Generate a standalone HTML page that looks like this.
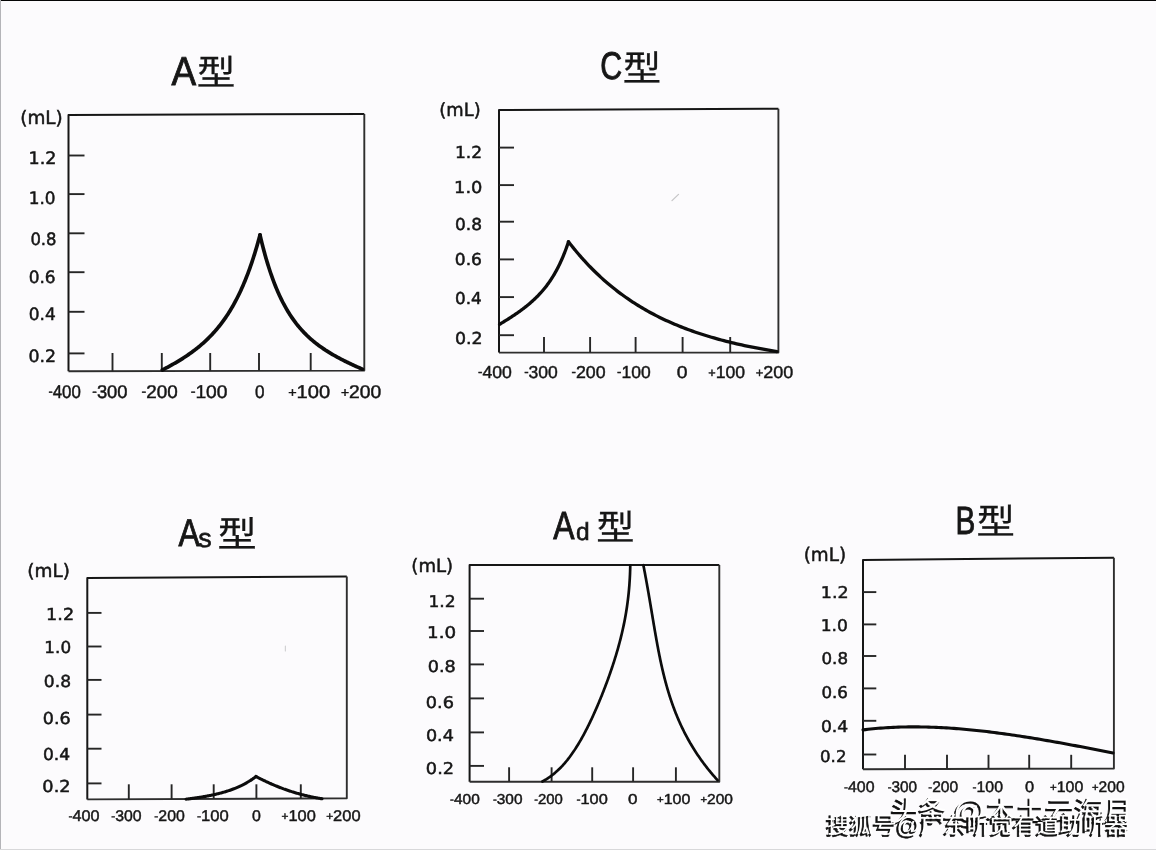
<!DOCTYPE html>
<html><head><meta charset="utf-8"><title>A型 C型 As型 Ad型 B型</title>
<style>html,body{margin:0;padding:0;background:#fcfbfd;width:1156px;height:850px;overflow:hidden}svg{display:block;will-change:transform;text-rendering:geometricPrecision}</style>
</head><body>
<svg width="1156" height="850" viewBox="0 0 1156 850">
<rect width="1156" height="850" fill="#fcfbfd"/>
<path d="M68.50 371.30 L68.50 115.00 L364.30 114.00" stroke="#161616" stroke-width="2" fill="none" stroke-linejoin="round"/>
<path d="M364.30 114.00 L364.30 370.60 L68.50 371.30" stroke="#2e2e2e" stroke-width="1.9" fill="none" stroke-linejoin="round"/>
<path d="M499.00 352.60 L499.00 110.00 L778.40 108.80" stroke="#161616" stroke-width="2" fill="none" stroke-linejoin="round"/>
<path d="M778.40 108.80 L778.40 352.60 L499.00 352.60" stroke="#2e2e2e" stroke-width="1.9" fill="none" stroke-linejoin="round"/>
<path d="M87.30 799.40 L87.30 578.10 L346.80 576.40" stroke="#161616" stroke-width="2" fill="none" stroke-linejoin="round"/>
<path d="M346.80 576.40 L346.80 798.30 L87.30 799.40" stroke="#2e2e2e" stroke-width="1.9" fill="none" stroke-linejoin="round"/>
<path d="M469.60 781.70 L469.60 565.00 L719.30 565.10" stroke="#161616" stroke-width="2" fill="none" stroke-linejoin="round"/>
<path d="M719.30 565.10 L719.30 781.70 L469.60 781.70" stroke="#2e2e2e" stroke-width="1.9" fill="none" stroke-linejoin="round"/>
<path d="M863.00 769.30 L863.00 559.90 L1113.90 557.80" stroke="#161616" stroke-width="2" fill="none" stroke-linejoin="round"/>
<path d="M1113.90 557.80 L1113.90 768.50 L863.00 769.30" stroke="#2e2e2e" stroke-width="1.9" fill="none" stroke-linejoin="round"/>
<line x1="68.50" y1="155.50" x2="84.50" y2="155.50" stroke="#262626" stroke-width="1.9"/>
<line x1="68.50" y1="194.10" x2="84.50" y2="194.10" stroke="#262626" stroke-width="1.9"/>
<line x1="68.50" y1="233.30" x2="84.50" y2="233.30" stroke="#262626" stroke-width="1.9"/>
<line x1="68.50" y1="272.20" x2="84.50" y2="272.20" stroke="#262626" stroke-width="1.9"/>
<line x1="68.50" y1="311.80" x2="84.50" y2="311.80" stroke="#262626" stroke-width="1.9"/>
<line x1="68.50" y1="353.40" x2="84.50" y2="353.40" stroke="#262626" stroke-width="1.9"/>
<line x1="499.00" y1="147.60" x2="514.00" y2="147.60" stroke="#262626" stroke-width="1.9"/>
<line x1="499.00" y1="185.10" x2="514.00" y2="185.10" stroke="#262626" stroke-width="1.9"/>
<line x1="499.00" y1="221.70" x2="514.00" y2="221.70" stroke="#262626" stroke-width="1.9"/>
<line x1="499.00" y1="259.40" x2="514.00" y2="259.40" stroke="#262626" stroke-width="1.9"/>
<line x1="499.00" y1="297.10" x2="514.00" y2="297.10" stroke="#262626" stroke-width="1.9"/>
<line x1="499.00" y1="335.20" x2="514.00" y2="335.20" stroke="#262626" stroke-width="1.9"/>
<line x1="87.30" y1="612.90" x2="101.50" y2="612.90" stroke="#262626" stroke-width="1.9"/>
<line x1="87.30" y1="646.50" x2="101.50" y2="646.50" stroke="#262626" stroke-width="1.9"/>
<line x1="87.30" y1="679.90" x2="101.50" y2="679.90" stroke="#262626" stroke-width="1.9"/>
<line x1="87.30" y1="714.60" x2="101.50" y2="714.60" stroke="#262626" stroke-width="1.9"/>
<line x1="87.30" y1="748.70" x2="101.50" y2="748.70" stroke="#262626" stroke-width="1.9"/>
<line x1="87.30" y1="783.40" x2="101.50" y2="783.40" stroke="#262626" stroke-width="1.9"/>
<line x1="469.60" y1="598.70" x2="484.00" y2="598.70" stroke="#262626" stroke-width="1.9"/>
<line x1="469.60" y1="631.00" x2="484.00" y2="631.00" stroke="#262626" stroke-width="1.9"/>
<line x1="469.60" y1="664.40" x2="484.00" y2="664.40" stroke="#262626" stroke-width="1.9"/>
<line x1="469.60" y1="698.40" x2="484.00" y2="698.40" stroke="#262626" stroke-width="1.9"/>
<line x1="469.60" y1="732.40" x2="484.00" y2="732.40" stroke="#262626" stroke-width="1.9"/>
<line x1="469.60" y1="765.90" x2="484.00" y2="765.90" stroke="#262626" stroke-width="1.9"/>
<line x1="863.00" y1="592.10" x2="876.30" y2="592.10" stroke="#262626" stroke-width="1.9"/>
<line x1="863.00" y1="624.40" x2="876.30" y2="624.40" stroke="#262626" stroke-width="1.9"/>
<line x1="863.00" y1="656.00" x2="876.30" y2="656.00" stroke="#262626" stroke-width="1.9"/>
<line x1="863.00" y1="688.40" x2="876.30" y2="688.40" stroke="#262626" stroke-width="1.9"/>
<line x1="863.00" y1="720.80" x2="876.30" y2="720.80" stroke="#262626" stroke-width="1.9"/>
<line x1="863.00" y1="754.50" x2="876.30" y2="754.50" stroke="#262626" stroke-width="1.9"/>
<line x1="112.50" y1="353.00" x2="112.50" y2="371.20" stroke="#262626" stroke-width="1.9"/>
<line x1="161.80" y1="353.00" x2="161.80" y2="371.08" stroke="#262626" stroke-width="1.9"/>
<line x1="210.20" y1="353.00" x2="210.20" y2="370.96" stroke="#262626" stroke-width="1.9"/>
<line x1="259.00" y1="353.00" x2="259.00" y2="370.85" stroke="#262626" stroke-width="1.9"/>
<line x1="310.70" y1="353.00" x2="310.70" y2="370.73" stroke="#262626" stroke-width="1.9"/>
<line x1="544.00" y1="337.00" x2="544.00" y2="352.60" stroke="#262626" stroke-width="1.9"/>
<line x1="590.10" y1="337.00" x2="590.10" y2="352.60" stroke="#262626" stroke-width="1.9"/>
<line x1="635.60" y1="337.00" x2="635.60" y2="352.60" stroke="#262626" stroke-width="1.9"/>
<line x1="682.60" y1="337.00" x2="682.60" y2="352.60" stroke="#262626" stroke-width="1.9"/>
<line x1="730.20" y1="337.00" x2="730.20" y2="352.60" stroke="#262626" stroke-width="1.9"/>
<line x1="128.80" y1="784.30" x2="128.80" y2="799.22" stroke="#262626" stroke-width="1.9"/>
<line x1="171.60" y1="784.30" x2="171.60" y2="799.04" stroke="#262626" stroke-width="1.9"/>
<line x1="213.70" y1="784.30" x2="213.70" y2="798.86" stroke="#262626" stroke-width="1.9"/>
<line x1="256.40" y1="784.30" x2="256.40" y2="798.68" stroke="#262626" stroke-width="1.9"/>
<line x1="300.80" y1="784.30" x2="300.80" y2="798.49" stroke="#262626" stroke-width="1.9"/>
<line x1="509.10" y1="767.30" x2="509.10" y2="781.70" stroke="#262626" stroke-width="1.9"/>
<line x1="551.60" y1="767.30" x2="551.60" y2="781.70" stroke="#262626" stroke-width="1.9"/>
<line x1="592.20" y1="767.30" x2="592.20" y2="781.70" stroke="#262626" stroke-width="1.9"/>
<line x1="633.10" y1="767.30" x2="633.10" y2="781.70" stroke="#262626" stroke-width="1.9"/>
<line x1="675.90" y1="767.30" x2="675.90" y2="781.70" stroke="#262626" stroke-width="1.9"/>
<line x1="905.00" y1="754.80" x2="905.00" y2="769.17" stroke="#262626" stroke-width="1.9"/>
<line x1="947.00" y1="754.80" x2="947.00" y2="769.03" stroke="#262626" stroke-width="1.9"/>
<line x1="988.50" y1="754.80" x2="988.50" y2="768.90" stroke="#262626" stroke-width="1.9"/>
<line x1="1029.20" y1="754.80" x2="1029.20" y2="768.77" stroke="#262626" stroke-width="1.9"/>
<line x1="1071.20" y1="754.80" x2="1071.20" y2="768.64" stroke="#262626" stroke-width="1.9"/>
<path d="M260.00 235.00L259.95 235.18L259.86 235.53L259.73 236.02L259.57 236.61L259.39 237.30L259.18 238.06L258.95 238.91L258.70 239.82L258.43 240.80L258.14 241.83L257.84 242.92L257.51 244.06L257.17 245.25L256.82 246.48L256.45 247.75L256.06 249.05L255.66 250.39L255.24 251.77L254.81 253.17L254.37 254.60L253.91 256.05L253.44 257.52L252.96 259.01L252.46 260.53L251.95 262.05L251.43 263.59L250.90 265.14L250.35 266.71L249.79 268.28L249.23 269.86L248.64 271.44L248.05 273.03L247.45 274.62L246.84 276.21L246.21 277.80L245.58 279.39L244.93 280.98L244.27 282.56L243.60 284.14L242.93 285.72L242.24 287.28L241.54 288.85L240.83 290.40L240.11 291.94L239.39 293.48L238.65 295.00L237.90 296.51L237.14 298.01L236.38 299.50L235.60 300.98L234.82 302.45L234.02 303.90L233.22 305.33L232.40 306.76L231.58 308.16L230.75 309.56L229.91 310.94L229.06 312.30L228.20 313.65L227.34 314.98L226.46 316.30L225.58 317.60L224.68 318.88L223.78 320.15L222.87 321.40L221.96 322.64L221.03 323.86L220.09 325.07L219.15 326.26L218.20 327.43L217.24 328.59L216.27 329.73L215.30 330.86L214.31 331.97L213.32 333.07L212.32 334.15L211.31 335.22L210.30 336.27L209.27 337.31L208.24 338.34L207.20 339.35L206.16 340.34L205.10 341.33L204.04 342.30L202.97 343.26L201.89 344.20L200.81 345.13L199.72 346.05L198.62 346.96L197.51 347.86L196.40 348.74L195.27 349.62L194.14 350.48L193.01 351.33L191.86 352.17L190.71 353.01L189.55 353.83L188.39 354.64L187.22 355.44L186.04 356.24L184.85 357.03L183.66 357.80L182.45 358.57L181.25 359.34L180.03 360.09L178.81 360.84L177.58 361.58L176.34 362.31L175.10 363.04L173.85 363.76L172.60 364.47L171.33 365.18L170.06 365.88L168.78 366.58L167.50 367.27L166.21 367.96L164.91 368.64L163.61 369.32L162.30 369.99" stroke="#0c0c0c" stroke-width="3.70" fill="none" stroke-linecap="round" stroke-linejoin="round"/>
<path d="M260.00 235.00L260.05 235.21L260.15 235.64L260.28 236.22L260.45 236.92L260.64 237.74L260.86 238.65L261.10 239.65L261.36 240.73L261.65 241.89L261.95 243.11L262.27 244.39L262.61 245.72L262.97 247.11L263.34 248.54L263.73 250.02L264.13 251.53L264.56 253.08L264.99 254.66L265.44 256.27L265.91 257.90L266.39 259.55L266.88 261.23L267.39 262.91L267.91 264.61L268.44 266.33L268.99 268.04L269.55 269.77L270.12 271.50L270.71 273.23L271.30 274.96L271.91 276.69L272.53 278.42L273.17 280.14L273.81 281.85L274.47 283.56L275.13 285.25L275.81 286.94L276.50 288.61L277.20 290.27L277.91 291.91L278.63 293.55L279.37 295.16L280.11 296.76L280.86 298.34L281.63 299.90L282.40 301.45L283.18 302.97L283.98 304.48L284.78 305.96L285.60 307.43L286.42 308.88L287.26 310.30L288.10 311.70L288.95 313.09L289.81 314.45L290.69 315.79L291.57 317.11L292.46 318.40L293.36 319.68L294.27 320.94L295.19 322.17L296.11 323.39L297.05 324.58L298.00 325.75L298.95 326.90L299.91 328.04L300.89 329.15L301.87 330.24L302.86 331.32L303.85 332.38L304.86 333.41L305.88 334.43L306.90 335.44L307.93 336.42L308.97 337.39L310.02 338.34L311.08 339.28L312.14 340.20L313.22 341.10L314.30 341.99L315.39 342.87L316.49 343.73L317.59 344.58L318.71 345.41L319.83 346.23L320.96 347.04L322.10 347.84L323.24 348.63L324.40 349.40L325.56 350.17L326.73 350.92L327.91 351.66L329.09 352.40L330.28 353.12L331.48 353.84L332.69 354.54L333.91 355.24L335.13 355.93L336.36 356.62L337.60 357.30L338.84 357.97L340.10 358.63L341.36 359.29L342.62 359.94L343.90 360.58L345.18 361.23L346.47 361.86L347.77 362.49L349.07 363.12L350.38 363.74L351.70 364.36L353.02 364.98L354.36 365.59L355.70 366.20L357.04 366.81L358.40 367.41L359.76 368.01L361.13 368.61L362.50 369.20" stroke="#0c0c0c" stroke-width="3.70" fill="none" stroke-linecap="round" stroke-linejoin="round"/>
<path d="M568.50 241.80L568.47 241.90L568.40 242.10L568.31 242.37L568.20 242.71L568.07 243.09L567.92 243.53L567.76 244.00L567.58 244.52L567.39 245.07L567.19 245.65L566.97 246.26L566.75 246.90L566.51 247.57L566.26 248.26L565.99 248.98L565.72 249.71L565.44 250.47L565.14 251.24L564.84 252.03L564.53 252.83L564.21 253.65L563.87 254.48L563.53 255.32L563.18 256.17L562.82 257.03L562.46 257.90L562.08 258.77L561.70 259.65L561.30 260.53L560.90 261.42L560.49 262.31L560.07 263.21L559.65 264.11L559.22 265.00L558.78 265.90L558.33 266.80L557.87 267.70L557.41 268.59L556.94 269.49L556.46 270.38L555.97 271.27L555.48 272.16L554.98 273.04L554.48 273.92L553.96 274.79L553.44 275.66L552.92 276.52L552.38 277.38L551.84 278.24L551.29 279.08L550.74 279.93L550.18 280.76L549.61 281.59L549.04 282.41L548.46 283.23L547.87 284.04L547.28 284.84L546.68 285.64L546.08 286.43L545.47 287.21L544.85 287.99L544.22 288.76L543.59 289.52L542.96 290.27L542.32 291.02L541.67 291.76L541.02 292.50L540.36 293.22L539.69 293.94L539.02 294.66L538.35 295.37L537.66 296.07L536.97 296.76L536.28 297.45L535.58 298.14L534.88 298.81L534.17 299.48L533.45 300.15L532.73 300.81L532.00 301.47L531.27 302.11L530.53 302.76L529.79 303.40L529.04 304.03L528.28 304.66L527.52 305.29L526.76 305.91L525.99 306.52L525.21 307.14L524.43 307.74L523.65 308.35L522.85 308.95L522.06 309.55L521.26 310.14L520.45 310.73L519.64 311.32L518.82 311.90L518.00 312.48L517.17 313.06L516.34 313.64L515.50 314.21L514.66 314.79L513.81 315.36L512.96 315.92L512.10 316.49L511.24 317.05L510.38 317.62L509.50 318.18L508.63 318.74L507.75 319.30L506.86 319.85L505.97 320.41L505.07 320.97L504.17 321.52L503.27 322.08L502.36 322.63L501.44 323.18L500.52 323.74L499.60 324.29" stroke="#0c0c0c" stroke-width="3.30" fill="none" stroke-linecap="round" stroke-linejoin="round"/>
<path d="M568.50 241.80L568.60 241.93L568.80 242.19L569.08 242.55L569.42 242.98L569.81 243.49L570.25 244.05L570.74 244.68L571.27 245.35L571.85 246.07L572.46 246.84L573.12 247.65L573.81 248.50L574.53 249.39L575.29 250.31L576.09 251.26L576.91 252.24L577.77 253.25L578.65 254.29L579.57 255.35L580.52 256.44L581.50 257.55L582.50 258.67L583.53 259.82L584.59 260.98L585.68 262.16L586.79 263.35L587.93 264.56L589.09 265.78L590.28 267.00L591.49 268.24L592.73 269.49L594.00 270.74L595.28 272.00L596.59 273.27L597.93 274.54L599.28 275.81L600.66 277.09L602.06 278.37L603.49 279.65L604.94 280.93L606.40 282.20L607.89 283.48L609.41 284.76L610.94 286.03L612.49 287.29L614.07 288.56L615.66 289.82L617.28 291.07L618.91 292.32L620.57 293.56L622.25 294.79L623.94 296.02L625.66 297.24L627.39 298.45L629.15 299.65L630.92 300.84L632.71 302.03L634.53 303.20L636.36 304.36L638.21 305.51L640.07 306.65L641.96 307.78L643.87 308.90L645.79 310.01L647.73 311.10L649.69 312.19L651.67 313.26L653.66 314.32L655.67 315.36L657.70 316.39L659.75 317.41L661.82 318.42L663.90 319.42L666.00 320.40L668.12 321.36L670.25 322.32L672.40 323.26L674.57 324.19L676.75 325.10L678.95 326.00L681.17 326.89L683.40 327.77L685.65 328.63L687.92 329.48L690.20 330.31L692.50 331.13L694.82 331.94L697.15 332.74L699.50 333.52L701.86 334.29L704.24 335.05L706.63 335.79L709.04 336.53L711.47 337.25L713.91 337.95L716.36 338.65L718.84 339.33L721.32 340.00L723.83 340.66L726.35 341.31L728.88 341.95L731.43 342.57L733.99 343.18L736.57 343.79L739.16 344.38L741.77 344.96L744.39 345.53L747.03 346.09L749.68 346.63L752.35 347.17L755.03 347.70L757.73 348.22L760.44 348.73L763.16 349.23L765.90 349.72L768.65 350.20L771.42 350.67L774.20 351.13L777.00 351.59" stroke="#0c0c0c" stroke-width="3.30" fill="none" stroke-linecap="round" stroke-linejoin="round"/>
<path d="M256.00 776.50L255.97 776.53L255.90 776.58L255.81 776.65L255.69 776.74L255.56 776.84L255.41 776.95L255.25 777.07L255.07 777.21L254.88 777.35L254.67 777.51L254.45 777.67L254.22 777.84L253.97 778.01L253.72 778.20L253.45 778.39L253.18 778.58L252.89 778.79L252.59 778.99L252.28 779.20L251.96 779.42L251.64 779.64L251.30 779.87L250.95 780.10L250.60 780.33L250.23 780.56L249.86 780.80L249.48 781.04L249.09 781.29L248.69 781.53L248.28 781.78L247.86 782.03L247.44 782.28L247.01 782.53L246.57 782.78L246.12 783.04L245.67 783.29L245.20 783.55L244.73 783.81L244.25 784.06L243.77 784.32L243.27 784.57L242.77 784.83L242.27 785.09L241.75 785.34L241.23 785.60L240.70 785.85L240.17 786.10L239.62 786.36L239.07 786.61L238.52 786.86L237.96 787.11L237.39 787.35L236.81 787.60L236.23 787.84L235.64 788.09L235.04 788.33L234.44 788.57L233.83 788.81L233.22 789.04L232.60 789.28L231.97 789.51L231.34 789.74L230.70 789.97L230.05 790.19L229.40 790.42L228.74 790.64L228.08 790.86L227.41 791.07L226.73 791.29L226.05 791.50L225.36 791.71L224.67 791.92L223.97 792.12L223.27 792.33L222.56 792.53L221.84 792.73L221.12 792.92L220.39 793.12L219.66 793.31L218.92 793.50L218.17 793.68L217.42 793.87L216.67 794.05L215.91 794.23L215.14 794.40L214.37 794.58L213.59 794.75L212.81 794.92L212.02 795.09L211.23 795.25L210.43 795.42L209.63 795.58L208.82 795.74L208.00 795.89L207.18 796.05L206.36 796.20L205.53 796.35L204.69 796.50L203.85 796.65L203.01 796.79L202.16 796.93L201.30 797.07L200.44 797.21L199.57 797.35L198.70 797.48L197.83 797.62L196.95 797.75L196.06 797.88L195.17 798.00L194.28 798.13L193.38 798.25L192.47 798.37L191.56 798.50L190.65 798.61L189.73 798.73L188.80 798.85L187.87 798.96L186.94 799.08L186.00 799.19" stroke="#0c0c0c" stroke-width="3.10" fill="none" stroke-linecap="round" stroke-linejoin="round"/>
<path d="M256.00 776.50L256.03 776.52L256.10 776.55L256.18 776.60L256.29 776.65L256.41 776.72L256.55 776.79L256.71 776.88L256.88 776.96L257.06 777.06L257.26 777.16L257.46 777.27L257.68 777.38L257.91 777.50L258.15 777.63L258.40 777.76L258.66 777.89L258.93 778.03L259.21 778.18L259.50 778.32L259.80 778.48L260.11 778.63L260.43 778.79L260.76 778.96L261.09 779.13L261.44 779.30L261.79 779.47L262.15 779.65L262.52 779.83L262.89 780.02L263.28 780.21L263.67 780.40L264.07 780.59L264.48 780.78L264.89 780.98L265.31 781.18L265.74 781.39L266.18 781.59L266.62 781.80L267.08 782.01L267.53 782.22L268.00 782.44L268.47 782.65L268.95 782.87L269.43 783.09L269.93 783.31L270.42 783.53L270.93 783.75L271.44 783.98L271.96 784.20L272.48 784.43L273.01 784.66L273.55 784.89L274.09 785.12L274.64 785.35L275.20 785.58L275.76 785.81L276.33 786.04L276.90 786.28L277.48 786.51L278.07 786.74L278.66 786.98L279.25 787.21L279.86 787.45L280.47 787.68L281.08 787.92L281.70 788.15L282.33 788.39L282.96 788.62L283.59 788.86L284.24 789.09L284.89 789.32L285.54 789.56L286.20 789.79L286.86 790.02L287.53 790.25L288.21 790.48L288.89 790.71L289.58 790.94L290.27 791.17L290.96 791.40L291.67 791.62L292.37 791.85L293.08 792.07L293.80 792.29L294.52 792.51L295.25 792.73L295.99 792.95L296.72 793.17L297.47 793.38L298.21 793.59L298.97 793.81L299.72 794.01L300.49 794.22L301.26 794.43L302.03 794.63L302.81 794.83L303.59 795.03L304.38 795.23L305.17 795.43L305.97 795.62L306.77 795.81L307.57 796.00L308.39 796.18L309.20 796.37L310.02 796.55L310.85 796.72L311.68 796.90L312.51 797.07L313.35 797.24L314.20 797.41L315.05 797.57L315.90 797.73L316.76 797.89L317.62 798.04L318.49 798.20L319.36 798.34L320.23 798.49L321.11 798.63L322.00 798.77" stroke="#0c0c0c" stroke-width="3.10" fill="none" stroke-linecap="round" stroke-linejoin="round"/>
<path d="M630.26 565.24L630.23 566.72L630.20 568.22L630.16 569.71L630.11 571.21L630.06 572.71L630.00 574.21L629.93 575.72L629.85 577.22L629.77 578.73L629.69 580.24L629.59 581.75L629.49 583.27L629.38 584.78L629.27 586.29L629.14 587.81L629.01 589.32L628.87 590.83L628.73 592.35L628.58 593.86L628.42 595.37L628.25 596.89L628.07 598.40L627.89 599.91L627.70 601.42L627.50 602.93L627.30 604.43L627.08 605.94L626.86 607.44L626.63 608.95L626.40 610.45L626.16 611.95L625.91 613.44L625.65 614.94L625.39 616.43L625.11 617.93L624.84 619.42L624.55 620.91L624.26 622.39L623.96 623.88L623.65 625.36L623.34 626.84L623.02 628.32L622.69 629.79L622.35 631.27L622.01 632.74L621.67 634.21L621.31 635.68L620.95 637.15L620.59 638.61L620.21 640.07L619.83 641.53L619.45 642.99L619.06 644.45L618.66 645.90L618.26 647.36L617.85 648.81L617.44 650.26L617.02 651.70L616.59 653.15L616.16 654.59L615.72 656.04L615.28 657.48L614.84 658.92L614.38 660.35L613.93 661.79L613.46 663.23L613.00 664.66L612.53 666.09L612.05 667.52L611.57 668.95L611.08 670.38L610.59 671.80L610.09 673.23L609.59 674.65L609.09 676.08L608.58 677.50L608.07 678.92L607.55 680.34L607.03 681.76L606.50 683.18L605.97 684.59L605.43 686.01L604.89 687.42L604.35 688.83L603.80 690.25L603.25 691.66L602.69 693.07L602.13 694.48L601.57 695.88L601.00 697.29L600.43 698.69L599.85 700.10L599.27 701.50L598.68 702.90L598.09 704.30L597.49 705.70L596.89 707.10L596.29 708.49L595.68 709.88L595.07 711.27L594.45 712.66L593.82 714.05L593.19 715.44L592.56 716.82L591.92 718.20L591.27 719.58L590.62 720.95L589.97 722.33L589.31 723.70L588.64 725.06L587.96 726.42L587.28 727.78L586.60 729.14L585.90 730.49L585.20 731.84L584.49 733.18L583.78 734.52L583.05 735.85L582.32 737.18L581.58 738.51L580.84 739.82L580.08 741.13L579.32 742.44L578.54 743.74L577.76 745.03L576.96 746.31L576.16 747.59L575.35 748.86L574.52 750.12L573.68 751.37L572.83 752.61L571.97 753.84L571.10 755.07L570.22 756.28L569.32 757.48L568.40 758.67L567.48 759.85L566.53 761.01L565.58 762.16L564.60 763.30L563.61 764.43L562.61 765.54L561.59 766.63L560.55 767.71L559.49 768.77L558.41 769.82L557.31 770.85L556.19 771.85L555.06 772.85L553.90 773.82L552.71 774.77L551.51 775.70L550.28 776.60L549.03 777.49L547.75 778.35L546.45 779.19L545.12 780.00L543.76 780.79L542.38 781.55" stroke="#0c0c0c" stroke-width="2.70" fill="none" stroke-linecap="round" stroke-linejoin="round"/>
<path d="M643.40 565.22L643.68 566.65L643.95 568.07L644.22 569.50L644.49 570.93L644.76 572.36L645.03 573.79L645.30 575.22L645.56 576.65L645.82 578.08L646.09 579.51L646.35 580.94L646.60 582.37L646.86 583.80L647.12 585.23L647.37 586.66L647.63 588.10L647.88 589.53L648.13 590.96L648.38 592.39L648.63 593.82L648.87 595.26L649.12 596.69L649.37 598.12L649.61 599.55L649.85 600.99L650.10 602.42L650.34 603.85L650.58 605.29L650.82 606.72L651.06 608.16L651.30 609.59L651.54 611.02L651.78 612.46L652.02 613.89L652.26 615.33L652.50 616.76L652.74 618.19L652.98 619.63L653.22 621.06L653.46 622.50L653.70 623.93L653.94 625.37L654.19 626.80L654.43 628.23L654.68 629.67L654.92 631.10L655.17 632.53L655.42 633.97L655.67 635.40L655.92 636.83L656.18 638.26L656.43 639.69L656.69 641.13L656.95 642.56L657.21 643.99L657.48 645.42L657.74 646.85L658.01 648.27L658.29 649.70L658.56 651.13L658.84 652.56L659.12 653.98L659.41 655.41L659.70 656.83L659.99 658.26L660.28 659.68L660.58 661.10L660.89 662.52L661.20 663.94L661.51 665.36L661.83 666.78L662.15 668.20L662.47 669.62L662.80 671.03L663.14 672.44L663.48 673.86L663.83 675.27L664.18 676.68L664.53 678.08L664.90 679.49L665.26 680.90L665.64 682.30L666.02 683.70L666.40 685.10L666.80 686.50L667.19 687.90L667.60 689.29L668.01 690.68L668.43 692.07L668.85 693.46L669.28 694.85L669.72 696.23L670.17 697.62L670.62 699.00L671.08 700.37L671.55 701.75L672.02 703.12L672.51 704.49L673.00 705.86L673.49 707.22L674.00 708.58L674.51 709.94L675.03 711.30L675.56 712.65L676.10 714.00L676.65 715.35L677.20 716.70L677.76 718.04L678.33 719.37L678.91 720.71L679.50 722.04L680.10 723.37L680.70 724.69L681.31 726.01L681.94 727.33L682.57 728.64L683.21 729.95L683.85 731.25L684.51 732.55L685.18 733.85L685.85 735.14L686.53 736.43L687.22 737.71L687.92 738.99L688.63 740.26L689.35 741.53L690.08 742.80L690.81 744.05L691.56 745.31L692.31 746.56L693.07 747.80L693.84 749.04L694.62 750.28L695.41 751.51L696.20 752.73L697.01 753.95L697.82 755.16L698.64 756.36L699.47 757.56L700.30 758.76L701.15 759.94L702.00 761.13L702.86 762.30L703.73 763.47L704.60 764.63L705.48 765.79L706.37 766.94L707.27 768.08L708.17 769.22L709.08 770.35L710.00 771.47L710.92 772.58L711.85 773.69L712.79 774.79L713.73 775.88L714.68 776.96L715.63 778.04L716.59 779.11L717.55 780.17" stroke="#0c0c0c" stroke-width="2.70" fill="none" stroke-linecap="round" stroke-linejoin="round"/>
<path d="M863.00 729.91L865.53 729.60L868.05 729.31L870.58 729.04L873.10 728.79L875.63 728.55L878.15 728.33L880.68 728.13L883.20 727.94L885.73 727.77L888.25 727.61L890.78 727.47L893.30 727.35L895.83 727.24L898.35 727.14L900.88 727.06L903.40 727.00L905.93 726.95L908.45 726.91L910.98 726.89L913.51 726.88L916.03 726.88L918.56 726.90L921.08 726.93L923.61 726.97L926.13 727.03L928.66 727.10L931.18 727.18L933.71 727.27L936.23 727.37L938.76 727.49L941.28 727.61L943.81 727.75L946.33 727.90L948.86 728.05L951.38 728.22L953.91 728.40L956.43 728.59L958.96 728.79L961.48 729.00L964.01 729.22L966.54 729.45L969.06 729.68L971.59 729.93L974.11 730.18L976.64 730.45L979.16 730.72L981.69 731.00L984.21 731.29L986.74 731.58L989.26 731.88L991.79 732.20L994.31 732.51L996.84 732.84L999.36 733.17L1001.89 733.51L1004.41 733.86L1006.94 734.21L1009.46 734.57L1011.99 734.93L1014.52 735.30L1017.04 735.68L1019.57 736.06L1022.09 736.45L1024.62 736.85L1027.14 737.24L1029.67 737.65L1032.19 738.06L1034.72 738.47L1037.24 738.89L1039.77 739.31L1042.29 739.74L1044.82 740.17L1047.34 740.61L1049.87 741.05L1052.39 741.49L1054.92 741.94L1057.44 742.39L1059.97 742.84L1062.49 743.30L1065.02 743.76L1067.55 744.23L1070.07 744.69L1072.60 745.16L1075.12 745.64L1077.65 746.11L1080.17 746.59L1082.70 747.07L1085.22 747.55L1087.75 748.03L1090.27 748.52L1092.80 749.01L1095.32 749.50L1097.85 749.99L1100.37 750.48L1102.90 750.98L1105.42 751.47L1107.95 751.97L1110.47 752.47L1113.00 752.97" stroke="#0c0c0c" stroke-width="3.10" fill="none" stroke-linecap="round" stroke-linejoin="round"/>
<text x="20.25" y="123.85" font-size="18.63" font-family="'DejaVu Sans', sans-serif" textLength="42.56" lengthAdjust="spacingAndGlyphs" fill="#161616" stroke="#161616" stroke-width="0.50">(mL)</text>
<text x="28.63" y="164.41" font-size="17.04" font-family="'DejaVu Sans', sans-serif" textLength="27.92" lengthAdjust="spacingAndGlyphs" fill="#161616" stroke="#161616" stroke-width="0.50">1.2</text>
<text x="28.76" y="204.48" font-size="17.04" font-family="'DejaVu Sans', sans-serif" textLength="26.82" lengthAdjust="spacingAndGlyphs" fill="#161616" stroke="#161616" stroke-width="0.50">1.0</text>
<text x="30.42" y="245.04" font-size="17.04" font-family="'DejaVu Sans', sans-serif" textLength="26.16" lengthAdjust="spacingAndGlyphs" fill="#161616" stroke="#161616" stroke-width="0.50">0.8</text>
<text x="28.70" y="282.95" font-size="17.04" font-family="'DejaVu Sans', sans-serif" textLength="26.98" lengthAdjust="spacingAndGlyphs" fill="#161616" stroke="#161616" stroke-width="0.50">0.6</text>
<text x="28.80" y="319.73" font-size="17.04" font-family="'DejaVu Sans', sans-serif" textLength="27.02" lengthAdjust="spacingAndGlyphs" fill="#161616" stroke="#161616" stroke-width="0.50">0.4</text>
<text x="28.53" y="362.25" font-size="17.04" font-family="'DejaVu Sans', sans-serif" textLength="27.62" lengthAdjust="spacingAndGlyphs" fill="#161616" stroke="#161616" stroke-width="0.50">0.2</text>
<text x="48.55" y="398.01" font-size="18.44" font-family="'Liberation Sans', sans-serif" textLength="32.27" lengthAdjust="spacingAndGlyphs" fill="#161616" stroke="#161616" stroke-width="0.45"><tspan font-size="13.83" baseline-shift="1.66">-</tspan>400</text>
<text x="92.29" y="398.01" font-size="18.44" font-family="'Liberation Sans', sans-serif" textLength="35.20" lengthAdjust="spacingAndGlyphs" fill="#161616" stroke="#161616" stroke-width="0.45"><tspan font-size="13.83" baseline-shift="1.66">-</tspan>300</text>
<text x="141.55" y="398.01" font-size="18.44" font-family="'Liberation Sans', sans-serif" textLength="36.22" lengthAdjust="spacingAndGlyphs" fill="#161616" stroke="#161616" stroke-width="0.45"><tspan font-size="13.83" baseline-shift="1.66">-</tspan>200</text>
<text x="190.65" y="398.01" font-size="18.44" font-family="'Liberation Sans', sans-serif" textLength="36.86" lengthAdjust="spacingAndGlyphs" fill="#161616" stroke="#161616" stroke-width="0.45"><tspan font-size="13.83" baseline-shift="1.66">-</tspan>100</text>
<text x="255.12" y="398.01" font-size="18.44" font-family="'Liberation Sans', sans-serif" textLength="9.51" lengthAdjust="spacingAndGlyphs" fill="#161616" stroke="#161616" stroke-width="0.45">0</text>
<text x="288.15" y="398.01" font-size="18.44" font-family="'Liberation Sans', sans-serif" textLength="41.96" lengthAdjust="spacingAndGlyphs" fill="#161616" stroke="#161616" stroke-width="0.45"><tspan font-size="13.28" baseline-shift="1.11">+</tspan>100</text>
<text x="340.96" y="398.01" font-size="18.44" font-family="'Liberation Sans', sans-serif" textLength="40.26" lengthAdjust="spacingAndGlyphs" fill="#161616" stroke="#161616" stroke-width="0.45"><tspan font-size="13.28" baseline-shift="1.11">+</tspan>200</text>
<text x="171.53" y="85.29" font-size="40.46" font-family="'Liberation Sans', 'Noto Sans CJK SC', sans-serif" textLength="24.62" lengthAdjust="spacingAndGlyphs" fill="#161616" stroke="#161616" stroke-width="0.90">A</text>
<text x="196.66" y="85.25" font-size="35.10" font-family="'Liberation Sans', 'Noto Sans CJK SC', sans-serif" textLength="38.59" lengthAdjust="spacingAndGlyphs" fill="#161616" stroke="#161616" stroke-width="0.25">型</text>
<text x="439.36" y="115.71" font-size="18.26" font-family="'DejaVu Sans', sans-serif" textLength="41.27" lengthAdjust="spacingAndGlyphs" fill="#161616" stroke="#161616" stroke-width="0.50">(mL)</text>
<text x="454.94" y="157.95" font-size="16.38" font-family="'DejaVu Sans', sans-serif" textLength="27.22" lengthAdjust="spacingAndGlyphs" fill="#161616" stroke="#161616" stroke-width="0.50">1.2</text>
<text x="454.14" y="192.86" font-size="16.38" font-family="'DejaVu Sans', sans-serif" textLength="28.32" lengthAdjust="spacingAndGlyphs" fill="#161616" stroke="#161616" stroke-width="0.50">1.0</text>
<text x="455.01" y="229.85" font-size="16.38" font-family="'DejaVu Sans', sans-serif" textLength="27.00" lengthAdjust="spacingAndGlyphs" fill="#161616" stroke="#161616" stroke-width="0.50">0.8</text>
<text x="454.81" y="265.27" font-size="16.38" font-family="'DejaVu Sans', sans-serif" textLength="27.23" lengthAdjust="spacingAndGlyphs" fill="#161616" stroke="#161616" stroke-width="0.50">0.6</text>
<text x="454.95" y="304.11" font-size="16.38" font-family="'DejaVu Sans', sans-serif" textLength="26.76" lengthAdjust="spacingAndGlyphs" fill="#161616" stroke="#161616" stroke-width="0.50">0.4</text>
<text x="454.94" y="344.43" font-size="16.38" font-family="'DejaVu Sans', sans-serif" textLength="27.63" lengthAdjust="spacingAndGlyphs" fill="#161616" stroke="#161616" stroke-width="0.50">0.2</text>
<text x="478.04" y="378.42" font-size="17.31" font-family="'Liberation Sans', sans-serif" textLength="33.85" lengthAdjust="spacingAndGlyphs" fill="#161616" stroke="#161616" stroke-width="0.45"><tspan font-size="12.98" baseline-shift="1.56">-</tspan>400</text>
<text x="524.23" y="378.42" font-size="17.31" font-family="'Liberation Sans', sans-serif" textLength="33.63" lengthAdjust="spacingAndGlyphs" fill="#161616" stroke="#161616" stroke-width="0.45"><tspan font-size="12.98" baseline-shift="1.56">-</tspan>300</text>
<text x="571.48" y="378.42" font-size="17.31" font-family="'Liberation Sans', sans-serif" textLength="34.11" lengthAdjust="spacingAndGlyphs" fill="#161616" stroke="#161616" stroke-width="0.45"><tspan font-size="12.98" baseline-shift="1.56">-</tspan>200</text>
<text x="617.13" y="378.42" font-size="17.31" font-family="'Liberation Sans', sans-serif" textLength="33.57" lengthAdjust="spacingAndGlyphs" fill="#161616" stroke="#161616" stroke-width="0.45"><tspan font-size="12.98" baseline-shift="1.56">-</tspan>100</text>
<text x="676.87" y="378.42" font-size="17.31" font-family="'Liberation Sans', sans-serif" textLength="10.77" lengthAdjust="spacingAndGlyphs" fill="#161616" stroke="#161616" stroke-width="0.45">0</text>
<text x="708.23" y="378.42" font-size="17.31" font-family="'Liberation Sans', sans-serif" textLength="36.79" lengthAdjust="spacingAndGlyphs" fill="#161616" stroke="#161616" stroke-width="0.45"><tspan font-size="12.47" baseline-shift="1.04">+</tspan>100</text>
<text x="755.66" y="378.42" font-size="17.31" font-family="'Liberation Sans', sans-serif" textLength="37.54" lengthAdjust="spacingAndGlyphs" fill="#161616" stroke="#161616" stroke-width="0.45"><tspan font-size="12.47" baseline-shift="1.04">+</tspan>200</text>
<text x="600.15" y="79.11" font-size="38.70" font-family="'Liberation Sans', 'Noto Sans CJK SC', sans-serif" textLength="21.96" lengthAdjust="spacingAndGlyphs" fill="#161616" stroke="#161616" stroke-width="0.90">C</text>
<text x="622.86" y="80.61" font-size="35.60" font-family="'Liberation Sans', 'Noto Sans CJK SC', sans-serif" textLength="38.32" lengthAdjust="spacingAndGlyphs" fill="#161616" stroke="#161616" stroke-width="0.25">型</text>
<text x="27.35" y="577.33" font-size="18.31" font-family="'DejaVu Sans', sans-serif" textLength="42.62" lengthAdjust="spacingAndGlyphs" fill="#161616" stroke="#161616" stroke-width="0.50">(mL)</text>
<text x="46.09" y="620.31" font-size="16.46" font-family="'DejaVu Sans', sans-serif" textLength="28.07" lengthAdjust="spacingAndGlyphs" fill="#161616" stroke="#161616" stroke-width="0.50">1.2</text>
<text x="44.38" y="653.28" font-size="16.46" font-family="'DejaVu Sans', sans-serif" textLength="26.75" lengthAdjust="spacingAndGlyphs" fill="#161616" stroke="#161616" stroke-width="0.50">1.0</text>
<text x="43.80" y="687.23" font-size="16.46" font-family="'DejaVu Sans', sans-serif" textLength="27.24" lengthAdjust="spacingAndGlyphs" fill="#161616" stroke="#161616" stroke-width="0.50">0.8</text>
<text x="42.74" y="723.84" font-size="16.46" font-family="'DejaVu Sans', sans-serif" textLength="27.93" lengthAdjust="spacingAndGlyphs" fill="#161616" stroke="#161616" stroke-width="0.50">0.6</text>
<text x="42.92" y="760.40" font-size="16.46" font-family="'DejaVu Sans', sans-serif" textLength="27.19" lengthAdjust="spacingAndGlyphs" fill="#161616" stroke="#161616" stroke-width="0.50">0.4</text>
<text x="42.38" y="791.62" font-size="16.46" font-family="'DejaVu Sans', sans-serif" textLength="28.23" lengthAdjust="spacingAndGlyphs" fill="#161616" stroke="#161616" stroke-width="0.50">0.2</text>
<text x="68.49" y="821.01" font-size="15.51" font-family="'Liberation Sans', sans-serif" textLength="31.09" lengthAdjust="spacingAndGlyphs" fill="#161616" stroke="#161616" stroke-width="0.45"><tspan font-size="11.63" baseline-shift="1.40">-</tspan>400</text>
<text x="111.21" y="821.01" font-size="15.51" font-family="'Liberation Sans', sans-serif" textLength="30.32" lengthAdjust="spacingAndGlyphs" fill="#161616" stroke="#161616" stroke-width="0.45"><tspan font-size="11.63" baseline-shift="1.40">-</tspan>300</text>
<text x="154.36" y="821.01" font-size="15.51" font-family="'Liberation Sans', sans-serif" textLength="30.42" lengthAdjust="spacingAndGlyphs" fill="#161616" stroke="#161616" stroke-width="0.45"><tspan font-size="11.63" baseline-shift="1.40">-</tspan>200</text>
<text x="196.95" y="821.01" font-size="15.51" font-family="'Liberation Sans', sans-serif" textLength="31.88" lengthAdjust="spacingAndGlyphs" fill="#161616" stroke="#161616" stroke-width="0.45"><tspan font-size="11.63" baseline-shift="1.40">-</tspan>100</text>
<text x="252.01" y="821.01" font-size="15.51" font-family="'Liberation Sans', sans-serif" textLength="8.85" lengthAdjust="spacingAndGlyphs" fill="#161616" stroke="#161616" stroke-width="0.45">0</text>
<text x="281.61" y="821.01" font-size="15.51" font-family="'Liberation Sans', sans-serif" textLength="34.23" lengthAdjust="spacingAndGlyphs" fill="#161616" stroke="#161616" stroke-width="0.45"><tspan font-size="11.17" baseline-shift="0.93">+</tspan>100</text>
<text x="326.18" y="821.01" font-size="15.51" font-family="'Liberation Sans', sans-serif" textLength="34.37" lengthAdjust="spacingAndGlyphs" fill="#161616" stroke="#161616" stroke-width="0.45"><tspan font-size="11.17" baseline-shift="0.93">+</tspan>200</text>
<text x="178.47" y="545.93" font-size="38.67" font-family="'Liberation Sans', 'Noto Sans CJK SC', sans-serif" textLength="21.31" lengthAdjust="spacingAndGlyphs" fill="#161616" stroke="#161616" stroke-width="0.90">A</text>
<text x="198.22" y="547.32" font-size="26.25" font-family="'Liberation Sans', 'Noto Sans CJK SC', sans-serif" textLength="13.46" lengthAdjust="spacingAndGlyphs" fill="#161616" stroke="#161616" stroke-width="0.60">s</text>
<text x="217.62" y="546.62" font-size="35.93" font-family="'Liberation Sans', 'Noto Sans CJK SC', sans-serif" textLength="39.17" lengthAdjust="spacingAndGlyphs" fill="#161616" stroke="#161616" stroke-width="0.25">型</text>
<text x="411.35" y="571.50" font-size="18.31" font-family="'DejaVu Sans', sans-serif" textLength="41.84" lengthAdjust="spacingAndGlyphs" fill="#161616" stroke="#161616" stroke-width="0.50">(mL)</text>
<text x="428.40" y="606.85" font-size="16.17" font-family="'DejaVu Sans', sans-serif" textLength="27.27" lengthAdjust="spacingAndGlyphs" fill="#161616" stroke="#161616" stroke-width="0.50">1.2</text>
<text x="427.11" y="638.43" font-size="16.17" font-family="'DejaVu Sans', sans-serif" textLength="29.10" lengthAdjust="spacingAndGlyphs" fill="#161616" stroke="#161616" stroke-width="0.50">1.0</text>
<text x="427.66" y="671.75" font-size="16.17" font-family="'DejaVu Sans', sans-serif" textLength="28.06" lengthAdjust="spacingAndGlyphs" fill="#161616" stroke="#161616" stroke-width="0.50">0.8</text>
<text x="425.87" y="707.85" font-size="16.17" font-family="'DejaVu Sans', sans-serif" textLength="28.13" lengthAdjust="spacingAndGlyphs" fill="#161616" stroke="#161616" stroke-width="0.50">0.6</text>
<text x="425.90" y="740.80" font-size="16.17" font-family="'DejaVu Sans', sans-serif" textLength="27.95" lengthAdjust="spacingAndGlyphs" fill="#161616" stroke="#161616" stroke-width="0.50">0.4</text>
<text x="425.88" y="774.25" font-size="16.17" font-family="'DejaVu Sans', sans-serif" textLength="28.22" lengthAdjust="spacingAndGlyphs" fill="#161616" stroke="#161616" stroke-width="0.50">0.2</text>
<text x="450.13" y="803.76" font-size="14.43" font-family="'Liberation Sans', sans-serif" textLength="29.61" lengthAdjust="spacingAndGlyphs" fill="#161616" stroke="#161616" stroke-width="0.45"><tspan font-size="10.82" baseline-shift="1.30">-</tspan>400</text>
<text x="492.92" y="803.76" font-size="14.43" font-family="'Liberation Sans', sans-serif" textLength="29.60" lengthAdjust="spacingAndGlyphs" fill="#161616" stroke="#161616" stroke-width="0.45"><tspan font-size="10.82" baseline-shift="1.30">-</tspan>300</text>
<text x="534.27" y="803.76" font-size="14.43" font-family="'Liberation Sans', sans-serif" textLength="28.58" lengthAdjust="spacingAndGlyphs" fill="#161616" stroke="#161616" stroke-width="0.45"><tspan font-size="10.82" baseline-shift="1.30">-</tspan>200</text>
<text x="576.45" y="803.76" font-size="14.43" font-family="'Liberation Sans', sans-serif" textLength="31.36" lengthAdjust="spacingAndGlyphs" fill="#161616" stroke="#161616" stroke-width="0.45"><tspan font-size="10.82" baseline-shift="1.30">-</tspan>100</text>
<text x="628.01" y="803.76" font-size="14.43" font-family="'Liberation Sans', sans-serif" textLength="9.49" lengthAdjust="spacingAndGlyphs" fill="#161616" stroke="#161616" stroke-width="0.45">0</text>
<text x="656.97" y="803.76" font-size="14.43" font-family="'Liberation Sans', sans-serif" textLength="33.39" lengthAdjust="spacingAndGlyphs" fill="#161616" stroke="#161616" stroke-width="0.45"><tspan font-size="10.39" baseline-shift="0.87">+</tspan>100</text>
<text x="700.54" y="803.76" font-size="14.43" font-family="'Liberation Sans', sans-serif" textLength="32.41" lengthAdjust="spacingAndGlyphs" fill="#161616" stroke="#161616" stroke-width="0.45"><tspan font-size="10.39" baseline-shift="0.87">+</tspan>200</text>
<text x="553.18" y="538.75" font-size="39.31" font-family="'Liberation Sans', 'Noto Sans CJK SC', sans-serif" textLength="21.25" lengthAdjust="spacingAndGlyphs" fill="#161616" stroke="#161616" stroke-width="0.90">A</text>
<text x="576.05" y="540.41" font-size="24.66" font-family="'Liberation Sans', 'Noto Sans CJK SC', sans-serif" textLength="13.63" lengthAdjust="spacingAndGlyphs" fill="#161616" stroke="#161616" stroke-width="0.60">d</text>
<text x="596.39" y="540.04" font-size="35.13" font-family="'Liberation Sans', 'Noto Sans CJK SC', sans-serif" textLength="38.24" lengthAdjust="spacingAndGlyphs" fill="#161616" stroke="#161616" stroke-width="0.25">型</text>
<text x="803.67" y="561.44" font-size="18.68" font-family="'DejaVu Sans', sans-serif" textLength="42.41" lengthAdjust="spacingAndGlyphs" fill="#161616" stroke="#161616" stroke-width="0.50">(mL)</text>
<text x="820.81" y="598.13" font-size="16.20" font-family="'DejaVu Sans', sans-serif" textLength="27.83" lengthAdjust="spacingAndGlyphs" fill="#161616" stroke="#161616" stroke-width="0.50">1.2</text>
<text x="820.73" y="630.87" font-size="16.20" font-family="'DejaVu Sans', sans-serif" textLength="27.26" lengthAdjust="spacingAndGlyphs" fill="#161616" stroke="#161616" stroke-width="0.50">1.0</text>
<text x="821.50" y="663.57" font-size="16.20" font-family="'DejaVu Sans', sans-serif" textLength="26.49" lengthAdjust="spacingAndGlyphs" fill="#161616" stroke="#161616" stroke-width="0.50">0.8</text>
<text x="821.46" y="698.38" font-size="16.20" font-family="'DejaVu Sans', sans-serif" textLength="26.48" lengthAdjust="spacingAndGlyphs" fill="#161616" stroke="#161616" stroke-width="0.50">0.6</text>
<text x="820.92" y="731.99" font-size="16.20" font-family="'DejaVu Sans', sans-serif" textLength="27.34" lengthAdjust="spacingAndGlyphs" fill="#161616" stroke="#161616" stroke-width="0.50">0.4</text>
<text x="820.04" y="761.96" font-size="16.20" font-family="'DejaVu Sans', sans-serif" textLength="26.45" lengthAdjust="spacingAndGlyphs" fill="#161616" stroke="#161616" stroke-width="0.50">0.2</text>
<text x="844.05" y="791.75" font-size="15.35" font-family="'Liberation Sans', sans-serif" textLength="30.52" lengthAdjust="spacingAndGlyphs" fill="#161616" stroke="#161616" stroke-width="0.45"><tspan font-size="11.51" baseline-shift="1.38">-</tspan>400</text>
<text x="887.75" y="791.75" font-size="15.35" font-family="'Liberation Sans', sans-serif" textLength="29.41" lengthAdjust="spacingAndGlyphs" fill="#161616" stroke="#161616" stroke-width="0.45"><tspan font-size="11.51" baseline-shift="1.38">-</tspan>300</text>
<text x="928.26" y="791.75" font-size="15.35" font-family="'Liberation Sans', sans-serif" textLength="29.90" lengthAdjust="spacingAndGlyphs" fill="#161616" stroke="#161616" stroke-width="0.45"><tspan font-size="11.51" baseline-shift="1.38">-</tspan>200</text>
<text x="972.58" y="791.75" font-size="15.35" font-family="'Liberation Sans', sans-serif" textLength="30.43" lengthAdjust="spacingAndGlyphs" fill="#161616" stroke="#161616" stroke-width="0.45"><tspan font-size="11.51" baseline-shift="1.38">-</tspan>100</text>
<text x="1025.10" y="791.75" font-size="15.35" font-family="'Liberation Sans', sans-serif" textLength="9.12" lengthAdjust="spacingAndGlyphs" fill="#161616" stroke="#161616" stroke-width="0.45">0</text>
<text x="1050.01" y="791.75" font-size="15.35" font-family="'Liberation Sans', sans-serif" textLength="33.33" lengthAdjust="spacingAndGlyphs" fill="#161616" stroke="#161616" stroke-width="0.45"><tspan font-size="11.05" baseline-shift="0.92">+</tspan>100</text>
<text x="1091.96" y="791.75" font-size="15.35" font-family="'Liberation Sans', sans-serif" textLength="32.64" lengthAdjust="spacingAndGlyphs" fill="#161616" stroke="#161616" stroke-width="0.45"><tspan font-size="11.05" baseline-shift="0.92">+</tspan>200</text>
<text x="955.44" y="533.75" font-size="39.51" font-family="'Liberation Sans', 'Noto Sans CJK SC', sans-serif" textLength="19.85" lengthAdjust="spacingAndGlyphs" fill="#161616" stroke="#161616" stroke-width="0.90">B</text>
<text x="976.42" y="534.42" font-size="35.21" font-family="'Liberation Sans', 'Noto Sans CJK SC', sans-serif" textLength="38.39" lengthAdjust="spacingAndGlyphs" fill="#161616" stroke="#161616" stroke-width="0.25">型</text>
<g transform="translate(-1.60,1.60)"><text x="891.16" y="821.01" font-size="29.14" font-family="'Liberation Sans', 'Noto Sans CJK SC', sans-serif" textLength="55.31" lengthAdjust="spacingAndGlyphs" fill="#111111" stroke="#111111" stroke-width="0.60">头条</text></g>
<text x="891.16" y="821.01" font-size="29.14" font-family="'Liberation Sans', 'Noto Sans CJK SC', sans-serif" textLength="55.31" lengthAdjust="spacingAndGlyphs" fill="#ffffff">头条</text>
<g transform="translate(-1.60,1.60)"><text x="953.11" y="822.46" font-size="31.36" font-family="'Liberation Sans', 'Noto Sans CJK SC', sans-serif" textLength="32.54" lengthAdjust="spacingAndGlyphs" fill="#111111" stroke="#111111" stroke-width="0.60">@</text></g>
<text x="953.11" y="822.46" font-size="31.36" font-family="'Liberation Sans', 'Noto Sans CJK SC', sans-serif" textLength="32.54" lengthAdjust="spacingAndGlyphs" fill="#ffffff">@</text>
<g transform="translate(-1.60,1.60)"><text x="986.85" y="820.11" font-size="27.27" font-family="'Liberation Sans', 'Noto Sans CJK SC', sans-serif" textLength="146.33" lengthAdjust="spacingAndGlyphs" fill="#111111" stroke="#111111" stroke-width="0.60">木土云海月</text></g>
<text x="986.85" y="820.11" font-size="27.27" font-family="'Liberation Sans', 'Noto Sans CJK SC', sans-serif" textLength="146.33" lengthAdjust="spacingAndGlyphs" fill="#ffffff">木土云海月</text>
<g transform="translate(-2.00,2.00)"><text x="826.93" y="833.23" font-size="23.00" font-family="'Liberation Sans', 'Noto Sans CJK SC', sans-serif" textLength="302.70" lengthAdjust="spacingAndGlyphs" fill="#111111" stroke="#111111" stroke-width="0.60">搜狐号@广东听觉有道助听器</text></g>
<text x="826.93" y="833.23" font-size="23.00" font-family="'Liberation Sans', 'Noto Sans CJK SC', sans-serif" textLength="302.70" lengthAdjust="spacingAndGlyphs" fill="#ffffff">搜狐号@广东听觉有道助听器</text>
<line x1="672" y1="200.6" x2="678.5" y2="194.4" stroke="#c6c6c8" stroke-width="1.3" stroke-linecap="round"/>
<line x1="285.4" y1="646" x2="285.4" y2="651" stroke="#d2d2d4" stroke-width="1.2" stroke-linecap="round"/>

<rect x="0" y="0" width="1156" height="1" fill="#050505"/><rect x="0" y="0" width="1" height="850" fill="#b4b4b8"/><rect x="0" y="849" width="1156" height="1" fill="#d8d8da"/>
</svg>
</body></html>
